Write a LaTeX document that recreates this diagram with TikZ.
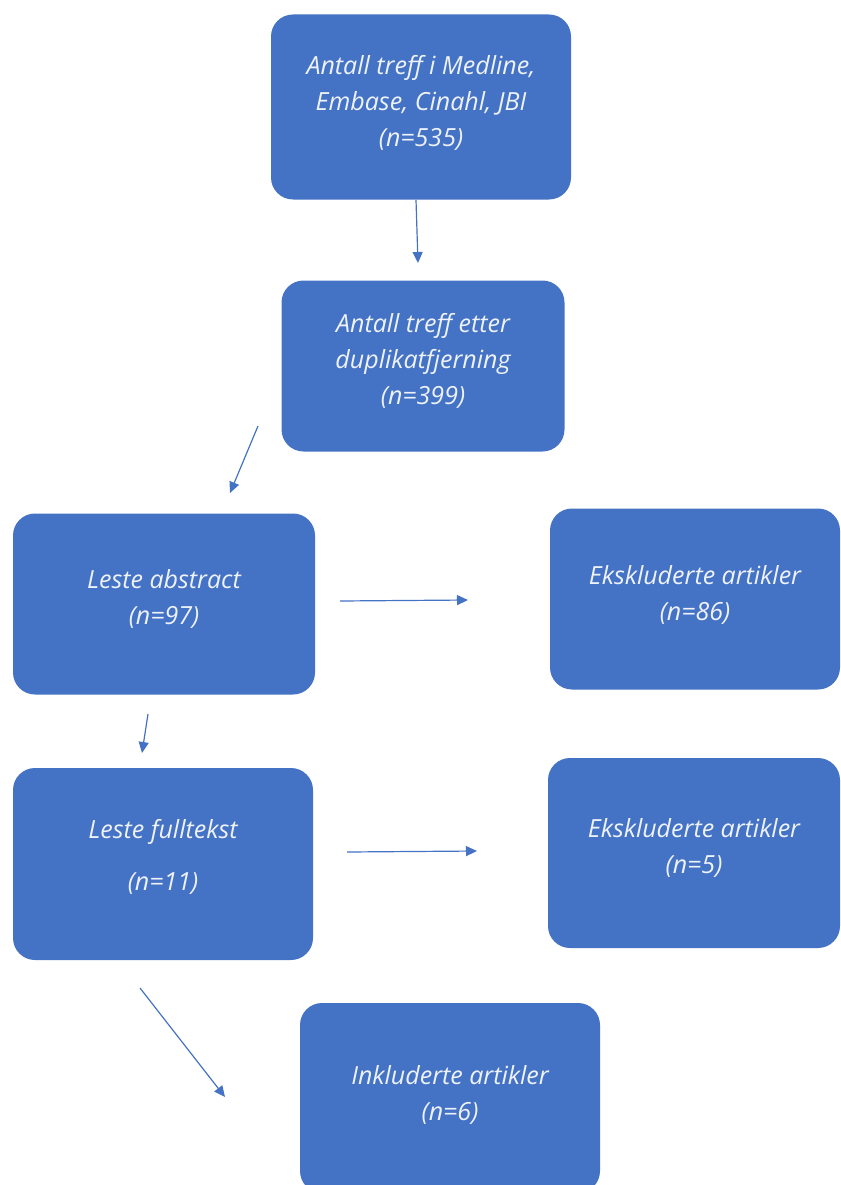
\documentclass[tikz,border=0pt]{standalone}
\usepackage{fontspec}
\setmainfont{Open Sans}
\usetikzlibrary{arrows.meta}
\definecolor{boxblue}{HTML}{4472C4}
\definecolor{boxtext}{HTML}{EEF2FA}
\tikzset{
  box/.style={fill=boxblue, rounded corners=22pt, minimum width=300pt, minimum height=185pt,
    align=center, text=boxtext, font=\fontsize{25}{36}\selectfont\itshape, inner sep=0pt},
  flow/.style={draw=boxblue, line width=1.2pt, -{Triangle[length=11pt,width=10pt]}}
}
\begin{document}
\begin{tikzpicture}[x=1pt,y=-1pt]
    \useasboundingbox (0,0) rectangle (840,1185);
    \clip (0,0) rectangle (840,1185);

    % Search and duplicates
    \node[box] (hits) at (421,107) {Antall treff i Medline,\\Embase, Cinahl, JBI\\(n=535)\\[-24pt]};
    \node[box, minimum width=283pt, minimum height=171pt] (dedup) at (423,366) {Antall treff etter\\duplikatfjerning\\(n=399)\\[-22pt]};

    % Abstracts
    \node[box, minimum width=302pt, minimum height=181pt] (abstract) at (164,604) {Leste abstract\\(n=97)\\[-22pt]};
    \node[box, minimum width=290pt, minimum height=181pt] (exclA) at (695,599) {Ekskluderte artikler\\(n=86)\\[-24pt]};

    % Full text
    \node[box, minimum width=300pt, minimum height=192pt] (fulltext) at (163,864) {Leste fulltekst\\[16pt](n=11)\\[-18pt]};
    \node[box, minimum width=292pt, minimum height=190pt] (exclB) at (694,853) {Ekskluderte artikler\\(n=5)\\[-22pt]};

    % Included
    \node[box, minimum width=300pt, minimum height=190pt] (incl) at (450,1098) {Inkluderte artikler\\(n=6)\\[-26pt]};

    % Arrows (free ends)
    \coordinate (a1s) at (416,200);  \coordinate (a1e) at (418,263);
    \coordinate (a2s) at (258,426);  \coordinate (a2e) at (230,493);
    \coordinate (a3s) at (340,601);  \coordinate (a3e) at (468,600);
    \coordinate (a4s) at (148,714);  \coordinate (a4e) at (142,753);
    \coordinate (a5s) at (347,852);  \coordinate (a5e) at (477,851);
    \coordinate (a6s) at (140,988);  \coordinate (a6e) at (225,1097);
    \draw[flow] (a1s) -- (a1e);
    \draw[flow] (a2s) -- (a2e);
    \draw[flow] (a3s) -- (a3e);
    \draw[flow] (a4s) -- (a4e);
    \draw[flow] (a5s) -- (a5e);
    \draw[flow] (a6s) -- (a6e);
\end{tikzpicture}
\end{document}
